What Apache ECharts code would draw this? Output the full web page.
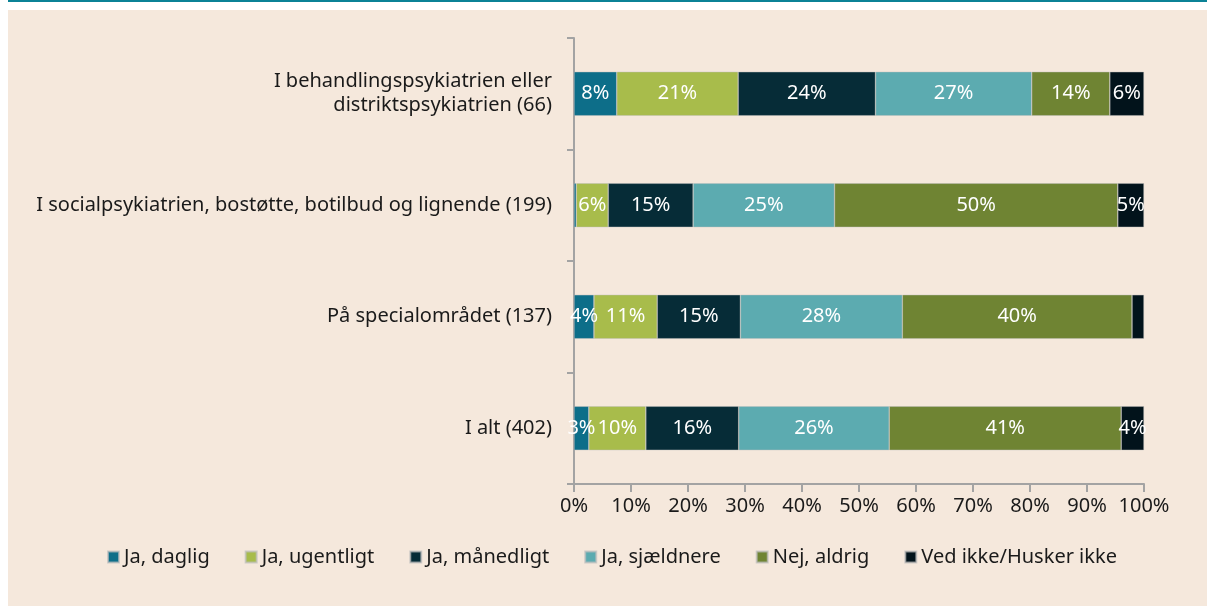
<!DOCTYPE html>
<html>
<head>
<meta charset="utf-8">
<script src="https://cdn.jsdelivr.net/npm/echarts@6/dist/echarts.min.js"></script>
<style>
  html, body { margin: 0; padding: 0; background: #fff; }
  #topline { position: absolute; left: 8px; top: 0; width: 1199px; height: 2px; background: #0b8296; }
  #chart { position: absolute; left: 8px; top: 10px; width: 1199px; height: 596px; background: #f5e8dc; }
</style>
</head>
<body>
<div id="topline"></div>
<div id="chart"></div>
<script>
// kategorier (øverst først)
const categories = [
  'I behandlingspsykiatrien eller\ndistriktspsykiatrien (66)',
  'I socialpsykiatrien, bostøtte, botilbud og lignende (199)',
  'På specialområdet (137)',
  'I alt (402)'
]
const seriesNames = ['Ja, daglig', 'Ja, ugentligt', 'Ja, månedligt', 'Ja, sjældnere', 'Nej, aldrig', 'Ved ikke/Husker ikke']
const colors = ['#0d6e89', '#a8bc4b', '#062c37', '#5cabb0', '#6f8433', '#02131b']

// andele i procent pr. kategori
const daglig = [7.5, 0.4, 3.5, 2.6]
const ugentligt = [21.3, 5.6, 11.1, 10.0]
const maanedligt = [24.1, 14.9, 14.6, 16.3]
const sjaeldnere = [27.4, 24.8, 28.4, 26.4]
const aldrig = [13.7, 49.7, 40.3, 40.7]
const vedIkke = [6.0, 4.6, 2.1, 4.0]
const xTicks = [0, 10, 20, 30, 40, 50, 60, 70, 80, 90, 100]

const values = [daglig, ugentligt, maanedligt, sjaeldnere, aldrig, vedIkke]
const font = 'Noto Sans'
const fs = 20

const myChart = echarts.init(document.getElementById('chart'))
myChart.setOption({
  color: colors,
  animation: false,
  textStyle: { fontFamily: font },
  grid: { left: 566, right: 63, top: 28, bottom: 122 },
  legend: {
    data: seriesNames,
    left: 94,
    top: 532,
    itemWidth: 11,
    itemHeight: 11,
    itemGap: 35,
    icon: 'rect',
    textStyle: { fontSize: fs, color: '#1a1a1a', fontFamily: font }
  },
  xAxis: {
    type: 'value',
    min: xTicks[0],
    max: xTicks[xTicks.length - 1],
    interval: 10,
    splitLine: { show: false },
    axisLine: { show: true, lineStyle: { color: '#a3a3a3', width: 2 } },
    axisTick: { show: true, length: 8, lineStyle: { color: '#a3a3a3', width: 2 } },
    axisLabel: { formatter: '{value}%', fontSize: fs, color: '#1a1a1a', margin: 12, fontFamily: font }
  },
  yAxis: {
    type: 'category',
    data: categories,
    inverse: true,
    axisLine: { show: true, lineStyle: { color: '#a3a3a3', width: 2 } },
    axisTick: { show: true, length: 7, lineStyle: { color: '#a3a3a3', width: 2 } },
    axisLabel: { fontSize: fs, color: '#1a1a1a', margin: 22, lineHeight: 24, align: 'right', fontFamily: font }
  },
  series: seriesNames.map((name, i) => ({
    name: name,
    type: 'bar',
    stack: 'total',
    barWidth: 44,
    data: values[i],
    itemStyle: { borderColor: 'rgba(190,190,190,0.7)', borderWidth: 0.6 },
    label: {
      show: true,
      position: 'inside',
      color: '#fff',
      fontSize: fs,
      fontFamily: font,
      formatter: (p) => (p.value < 2.5 ? '' : Math.round(p.value) + '%')
    }
  }))
})
</script>
</body>
</html>
